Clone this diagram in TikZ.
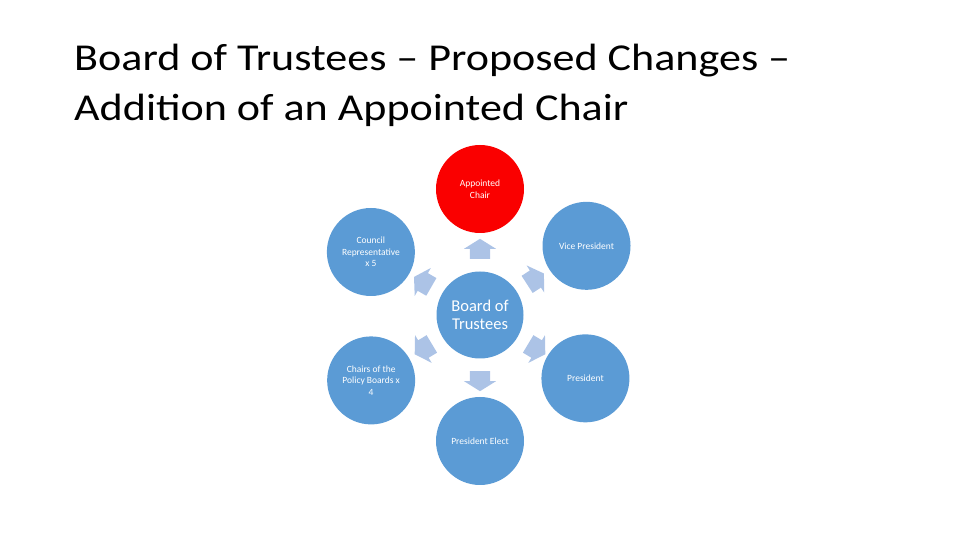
\documentclass[tikz,border=0pt]{standalone}
\usepackage{fontspec}
\setmainfont{Carlito}
\newfontfamily\titlefont[FakeStretch=1.16]{Carlito}
\usetikzlibrary{shapes.arrows,calc}

\definecolor{nodeblue}{RGB}{91,155,213}
\definecolor{arrowblue}{RGB}{172,195,230}
\definecolor{chairred}{RGB}{250,0,0}

\tikzset{
  member/.style={circle,fill=nodeblue,minimum size=88pt,inner sep=0pt,text=white,align=center,font=\fontsize{9.5}{11.5}\selectfont},
  board/.style={circle,fill=nodeblue,minimum size=87pt,inner sep=0pt,text=white,align=center,font=\fontsize{16.5}{18.5}\selectfont},
  blockarrow/.style={single arrow,fill=arrowblue,draw=none,minimum height=20pt,single arrow head extend=6pt,single arrow tip angle=116,inner sep=0pt}
}

\begin{document}
\begin{tikzpicture}[x=1pt,y=1pt]
\useasboundingbox (0,0) rectangle (960,540);
\node[anchor=north west,align=left,inner sep=0pt,font=\titlefont\fontsize{38}{50}\selectfont] (title) at (74,496) {Board of Trustees – Proposed Changes –\\Addition of an Appointed Chair};
% centre and the six members round it
\node[board] (bot) at (480,225) {Board of\\Trustees};
\node[member,fill=chairred] (chair) at ($(bot)+(90:126)$) {Appointed\\Chair};
\node[member] (vp) at ($(bot)+(33:127)$) {Vice President};
\node[member] (pres) at ($(bot)+(-31:123)$) {President};
\node[member] (elect) at ($(bot)+(-90:126)$) {President Elect};
\node[member] (policy) at ($(bot)+(-149:127)$) {Chairs of the\\Policy Boards x\\4};
\node[member] (council) at ($(bot)+(150:126)$) {Council\\Representative\\x 5};
\foreach \n/\a in {chair/90,vp/33,pres/-31,elect/-90,policy/-149,council/150}
  \node[blockarrow,rotate=\a] at ($(bot)!63pt!(\n)$) {\rule{0pt}{20pt}};
\end{tikzpicture}
\end{document}
